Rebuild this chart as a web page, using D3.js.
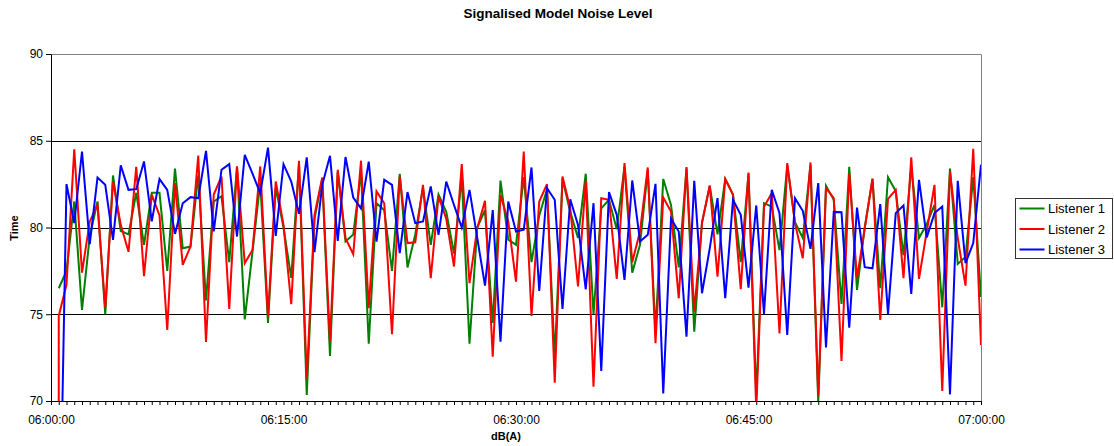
<!DOCTYPE html>
<html>
<head>
<meta charset="utf-8">
<script src="https://cdn.jsdelivr.net/npm/d3@7"></script>
<style>
  body { margin: 0; background: #fff; }
  svg { font-family: "Liberation Sans", Arial, sans-serif; }
</style>
</head>
<body>
<svg class="chart_svg"></svg>
<script>
// readings every 30 s, first one at 06:00:30
var startTime = "06:00:30";
var stepSeconds = 30;

var listener1 = [76.5, 77.5, 81.5, 75.25, 79.5, 81.5, 75.0, 83.0, 79.8, 79.6,
  82.0, 79.0, 82.0, 82.0, 77.5, 83.4, 78.8, 78.9, 83.0, 75.8,
  81.5, 81.8, 78.0, 83.5, 74.7, 78.6, 82.6, 74.5, 82.3, 80.0,
  77.1, 83.7, 70.35, 80.5, 82.8, 72.6, 83.2, 79.2, 79.6, 83.2,
  73.3, 81.4, 81.0, 77.5, 83.1, 77.7, 79.6, 82.3, 79.0, 81.9,
  80.9, 78.5, 82.9, 73.3, 80.0, 81.0, 74.5, 82.7, 79.3, 79.0,
  82.9, 78.0, 80.7, 82.2, 72.5, 82.8, 80.9, 79.4, 83.1, 75.0,
  81.1, 81.6, 79.9, 83.5, 77.4, 79.0, 83.3, 74.0, 82.8, 81.3,
  77.7, 83.4, 74.0, 80.3, 82.4, 79.6, 82.8, 81.9, 78.0, 83.1,
  70.3, 81.4, 81.2, 78.7, 83.6, 80.3, 79.4, 83.6, 69.9, 82.4,
  81.6, 75.6, 83.5, 76.4, 80.0, 82.8, 76.5, 82.9, 82.1, 78.4,
  83.5, 79.4, 80.2, 81.3, 75.4, 83.4, 77.9, 78.3, 82.9, 76.0];

var listener2 = [74.9, 76.7, 84.5, 77.4, 80.35, 81.3, 75.35, 82.65, 80.15, 78.6,
  83.5, 77.2, 81.9, 80.7, 74.1, 82.56, 77.85, 78.9, 84.15, 73.4,
  81.9, 82.94, 75.3, 83.52, 77.94, 78.71, 83.52, 74.87, 82.65, 80.15,
  75.58, 83.85, 71.3, 80.73, 82.88, 73.42, 83.33, 79.38, 78.46, 83.85,
  75.35, 82.08, 81.4, 73.85, 82.94, 79.1, 79.15, 82.46, 77.08, 81.79,
  80.5, 77.75, 83.65, 76.79, 79.96, 81.54, 72.56, 81.88, 80.35, 76.88,
  84.38, 74.9, 81.5, 82.5, 71.06, 82.94, 81.1, 76.6, 82.69, 70.83,
  81.69, 81.6, 77.04, 83.71, 78.0, 79.77, 83.46, 73.33, 81.73, 80.92,
  75.92, 83.48, 75.15, 80.25, 82.42, 77.17, 82.79, 81.88, 76.44, 83.17,
  69.5, 81.2, 81.98, 73.9, 83.71, 80.25, 78.23, 83.75, 70.3, 82.27,
  81.7, 72.31, 83.13, 77.08, 79.96, 82.81, 74.67, 81.65, 82.17, 77.08,
  84.04, 77.04, 79.77, 82.46, 70.58, 83.19, 79.38, 76.65, 84.54, 73.23];
// listener 2 log opens with a zero reading at the same time stamp
var listener2Lead = 0;

var listener3 = [58.6, 82.5, 80.25, 84.38, 79.04, 82.88, 82.46, 79.29, 83.58, 82.17,
  82.21, 83.81, 80.35, 82.79, 82.17, 79.63, 81.4, 81.75, 81.69, 84.42,
  79.77, 83.33, 83.65, 79.48, 84.19, 83.1, 81.98, 84.6, 79.52, 83.65,
  82.65, 80.79, 84.04, 78.58, 82.46, 84.13, 79.23, 84.06, 81.73, 81.1,
  83.8, 79.19, 82.75, 82.46, 78.52, 82.04, 80.25, 80.35, 82.37, 79.58,
  82.65, 81.3, 80.0, 82.17, 79.4, 76.65, 81.0, 73.42, 81.5, 79.77,
  79.87, 83.46, 76.35, 82.27, 81.6, 75.3, 81.63, 80.15, 76.44, 81.4,
  71.73, 82.04, 80.73, 76.98, 82.71, 79.19, 79.58, 82.52, 70.44, 80.5,
  79.77, 73.71, 82.69, 76.21, 78.8, 81.69, 75.92, 81.6, 80.73, 76.54,
  81.27, 75.02, 82.17, 80.83, 73.81, 81.69, 80.96, 78.77, 82.56, 73.08,
  80.9, 80.88, 74.23, 81.15, 77.71, 77.65, 81.35, 75.02, 80.83, 81.27,
  76.17, 82.75, 79.42, 80.83, 81.21, 70.38, 82.69, 77.94, 79.1, 83.62];

var yTicks = [70, 75, 80, 85, 90];
var xLabels = ["06:00:00", "06:15:00", "06:30:00", "06:45:00", "07:00:00"];

var series = [
  { name: "Listener 1", color: "#008000", values: listener1, lead: null },
  { name: "Listener 2", color: "#ff0000", values: listener2, lead: listener2Lead },
  { name: "Listener 3", color: "#0000ff", values: listener3, lead: null }
];

var parse = d3.timeParse("%H:%M:%S");
var t0 = parse(startTime);
var times = listener1.map((v, i) => d3.timeSecond.offset(t0, i * stepSeconds));

var W = 1114, H = 446;
var margin = { top: 54, right: 133, bottom: 45, left: 51 },
    w = W - margin.left - margin.right,
    h = H - margin.top - margin.bottom;

var svg = d3.select(".chart_svg").attr("width", W).attr("height", H);
var g = svg.append("g").attr("transform", `translate(${margin.left}, ${margin.top})`);

var x = d3.scaleTime()
  .domain([parse(xLabels[0]), parse(xLabels[xLabels.length - 1])])
  .range([0, w]);
var y = d3.scaleLinear().domain([70, 90]).range([h, 0]);

// title
svg.append("text")
  .attr("x", 558).attr("y", 18)
  .attr("text-anchor", "middle")
  .style("font-size", "13.5px").style("font-weight", "bold")
  .text("Signalised Model Noise Level");

// grid lines
g.selectAll(".grid").data(yTicks.slice(1, -1)).enter().append("line")
  .attr("x1", 0).attr("x2", w)
  .attr("y1", d => Math.round(y(d)) + 0.5).attr("y2", d => Math.round(y(d)) + 0.5)
  .attr("stroke", "#000").attr("stroke-width", 1);

// plot frame (top and right)
g.append("path")
  .attr("d", `M0,0.5H${w + 0.5}V${h}`)
  .attr("fill", "none").attr("stroke", "#808080");

// clip
g.append("clipPath").attr("id", "plotclip").append("rect")
  .attr("x", 0).attr("y", 0).attr("width", w).attr("height", h);

var line = d3.line()
  .defined(d => d.v != null)
  .x(d => x(d.t)).y(d => y(d.v));

var lines = g.append("g").attr("clip-path", "url(#plotclip)");
series.forEach(s => {
  var pts = s.values.map((v, i) => ({ t: times[i], v: v }));
  if (s.lead != null) pts.unshift({ t: times[0], v: s.lead });
  lines.append("path")
    .datum(pts)
    .attr("fill", "none")
    .attr("stroke", s.color)
    .attr("stroke-width", 2)
    .attr("stroke-linejoin", "miter")
    .attr("d", line);
});

// x axis
var labelSet = new Set(xLabels);
var fmt = d3.timeFormat("%H:%M:%S");
var xAxis = g.append("g")
  .attr("transform", `translate(0, ${h})`)
  .call(d3.axisBottom(x)
    .ticks(d3.timeSecond.every(stepSeconds))
    .tickSizeOuter(0)
    .tickSize(4)
    .tickPadding(10)
    .tickFormat(d => labelSet.has(fmt(d)) ? fmt(d) : ""));
xAxis.selectAll("text").style("font-size", "12px").attr("fill", "#000");
xAxis.selectAll("line, path").attr("stroke", "#000");

// y axis
var yAxis = g.append("g")
  .call(d3.axisLeft(y).tickValues(yTicks).tickSize(5).tickSizeOuter(0).tickPadding(3));
yAxis.selectAll("text").style("font-size", "12px").attr("fill", "#000");
yAxis.selectAll("line, path").attr("stroke", "#000");

// axis titles
svg.append("text")
  .attr("x", margin.left + w / 2 - 10).attr("y", 440)
  .attr("text-anchor", "middle")
  .style("font-size", "11px").style("font-weight", "bold")
  .text("dB(A)");

svg.append("text")
  .attr("transform", "rotate(-90)")
  .attr("x", -228).attr("y", 18)
  .attr("text-anchor", "middle")
  .style("font-size", "11px").style("font-weight", "bold")
  .text("Time");

// legend
var lg = svg.append("g").attr("transform", "translate(1015.5, 198.5)");
lg.append("rect")
  .attr("width", 97).attr("height", 60)
  .attr("fill", "#fff").attr("stroke", "#333");
series.forEach((s, i) => {
  var yy = 10 + i * 20.5;
  lg.append("line")
    .attr("x1", 4).attr("x2", 29).attr("y1", yy).attr("y2", yy)
    .attr("stroke", s.color).attr("stroke-width", 2);
  lg.append("text")
    .attr("x", 32.5).attr("y", yy + 4.5)
    .style("font-size", "13px")
    .text(s.name);
});
</script>
</body>
</html>
